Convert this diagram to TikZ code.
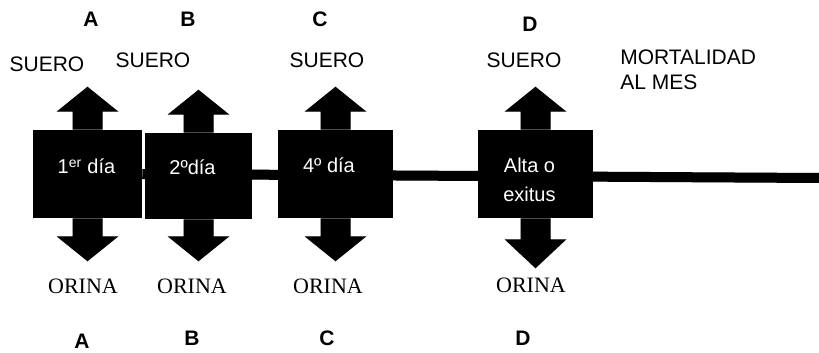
\documentclass[tikz,border=0pt]{standalone}
\usepackage{fontspec}
\setmainfont{Liberation Sans}
\newfontfamily\orinafont{Liberation Serif}
\usetikzlibrary{calc}
\tikzset{
  boxnode/.style={rectangle, fill=black, inner sep=0pt},
  lbl/.style={anchor=base, inner sep=0pt, font=\fontsize{15.75}{18}\selectfont},
  letter/.style={anchor=base, inner sep=0pt, font=\fontsize{15.75}{18}\selectfont\bfseries},
  intext/.style={anchor=base, inner sep=0pt, text=white, font=\fontsize{15}{18}\selectfont},
  orina/.style={anchor=base, inner sep=0pt, font=\fontsize{16.5}{18}\orinafont},
  shadowfill/.style={fill=black!22},
  timeline/.style={line width=7.5pt, draw=black},
}
% up arrow on a box: #1 node, #2 shaft length
\newcommand{\uparrowpath}[2]{(#1.north) ++(-15,0) -- ++(0,-#2) -- ++(-16,0) -- ++(31,-25) -- ++(31,25) -- ++(-16,0) -- ++(0,#2) -- cycle}
\newcommand{\downarrowpath}[3]{(#1.south) ++(-15,0) -- ++(0,#2) -- ++(-16,0) -- ++(31,#3) -- ++(31,-#3) -- ++(-16,0) -- ++(0,-#2) -- cycle}
\begin{document}
\begin{tikzpicture}[x=0.75pt,y=-0.75pt]
\useasboundingbox (0,0) rectangle (819,353);
% boxes
\node[boxnode, minimum width=109*0.75pt, minimum height=88*0.75pt] (b1) at (87.5,174) {};
\node[boxnode, minimum width=107*0.75pt, minimum height=86*0.75pt] (b2) at (198.5,176) {};
\node[boxnode, minimum width=115*0.75pt, minimum height=88*0.75pt] (b3) at (335.5,174) {};
\node[boxnode, minimum width=115*0.75pt, minimum height=88*0.75pt] (b4) at (535.5,174) {};
\coordinate (lineend) at (819,178);
% shadows
\begin{scope}[shift={(0,4)}]
  \fill[shadowfill] (b1.east) ++(0,-5) -- ++(0,10) -- ($(lineend)+(0,5)$) -- ($(lineend)+(0,-5)$) -- cycle;
  \foreach \b in {b1,b2,b3,b4}{
    \fill[shadowfill] (\b.north west) rectangle (\b.south east);
    \fill[shadowfill] \uparrowpath{\b}{18};
  }
  \fill[shadowfill] \downarrowpath{b1}{18}{25};
  \fill[shadowfill] \downarrowpath{b2}{17}{25};
  \fill[shadowfill] \downarrowpath{b3}{18}{25};
  \fill[shadowfill] \downarrowpath{b4}{21}{29};
\end{scope}
% timeline
\draw[timeline] (b1.east) -- (lineend);
% redraw boxes on top of line
\foreach \b in {b1,b2,b3,b4}{
  \fill[black] (\b.north west) rectangle (\b.south east);
  \fill[black] \uparrowpath{\b}{18};
}
\fill[black] \downarrowpath{b1}{18}{25};
\fill[black] \downarrowpath{b2}{17}{25};
\fill[black] \downarrowpath{b3}{18}{25};
\fill[black] \downarrowpath{b4}{21}{29};
% texts inside boxes
\node[intext] (t1) at (86.5,174) {1\textsuperscript{er} día};
\node[intext] (t2) at (192.5,175) {2ºdía};
\node[intext] (t3) at (329,173) {4º día};
\node[intext] (t4a) at (529.5,173) {Alta o};
\node[intext] (t4b) at (529.5,202) {exitus};
% top letters
\node[letter] (la) at (91,27) {A};
\node[letter] (lb) at (188,27) {B};
\node[letter] (lc) at (320,27) {C};
\node[letter] (ld) at (530,32) {D};
% SUERO
\node[lbl] (s1) at (47,72) {SUERO};
\node[lbl] (s2) at (153,68) {SUERO};
\node[lbl] (s3) at (327,68) {SUERO};
\node[lbl] (s4) at (524,68) {SUERO};
\node[lbl, anchor=base west] (m1) at (620,65) {MORTALIDAD};
\node[lbl, anchor=base west] (m2) at (620,90) {AL MES};
% ORINA
\node[orina] (o1) at (83,293) {ORINA};
\node[orina] (o2) at (192,293) {ORINA};
\node[orina] (o3) at (328,293) {ORINA};
\node[orina] (o4) at (531,292) {ORINA};
% bottom letters
\node[letter] (ba) at (82,348) {A};
\node[letter] (bb) at (192,345) {B};
\node[letter] (bc) at (327,345) {C};
\node[letter] (bd) at (523,345) {D};
\end{tikzpicture}
\end{document}
